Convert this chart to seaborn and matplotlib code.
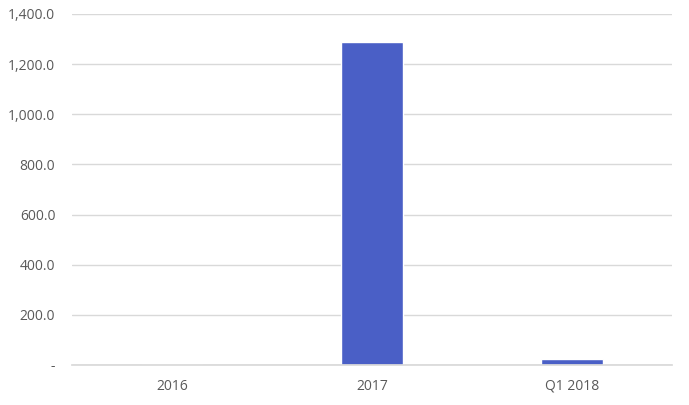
import pandas as pd
import seaborn as sns
import matplotlib.pyplot as plt
from matplotlib.ticker import FuncFormatter

# Values
periods = ["2016", "2017", "Q1 2018"]
values = [0.0, 1290.0, 25.0]

df = pd.DataFrame({"period": periods, "value": values})

sns.set_theme(style="white")
plt.rcParams["font.family"] = ["Open Sans", "DejaVu Sans"]

fig = plt.figure(figsize=(6.89, 4.05), dpi=100)
ax = fig.add_axes([0.1045, 0.0988, 0.8705, 0.8667])

sns.barplot(data=df, x="period", y="value", color="#4a5fc6", width=0.31,
            saturation=1, ax=ax)

ax.set_ylim(0, 1400)
ax.set_yticks(range(0, 1401, 200))
ax.yaxis.set_major_formatter(FuncFormatter(lambda v, p: "-" if v == 0 else f"{v:,.1f}"))
ax.grid(axis="y", color="#d9d9d9", linewidth=1)
ax.set_axisbelow(True)
for side in ["top", "right", "left"]:
    ax.spines[side].set_visible(False)
ax.spines["bottom"].set_color("#d9d9d9")
ax.tick_params(axis="both", length=0, labelsize=10, labelcolor="#595959")
ax.tick_params(axis="y", pad=12)
ax.tick_params(axis="x", pad=10)
ax.set_xlabel("")
ax.set_ylabel("")

plt.savefig("out.png", dpi=100)
